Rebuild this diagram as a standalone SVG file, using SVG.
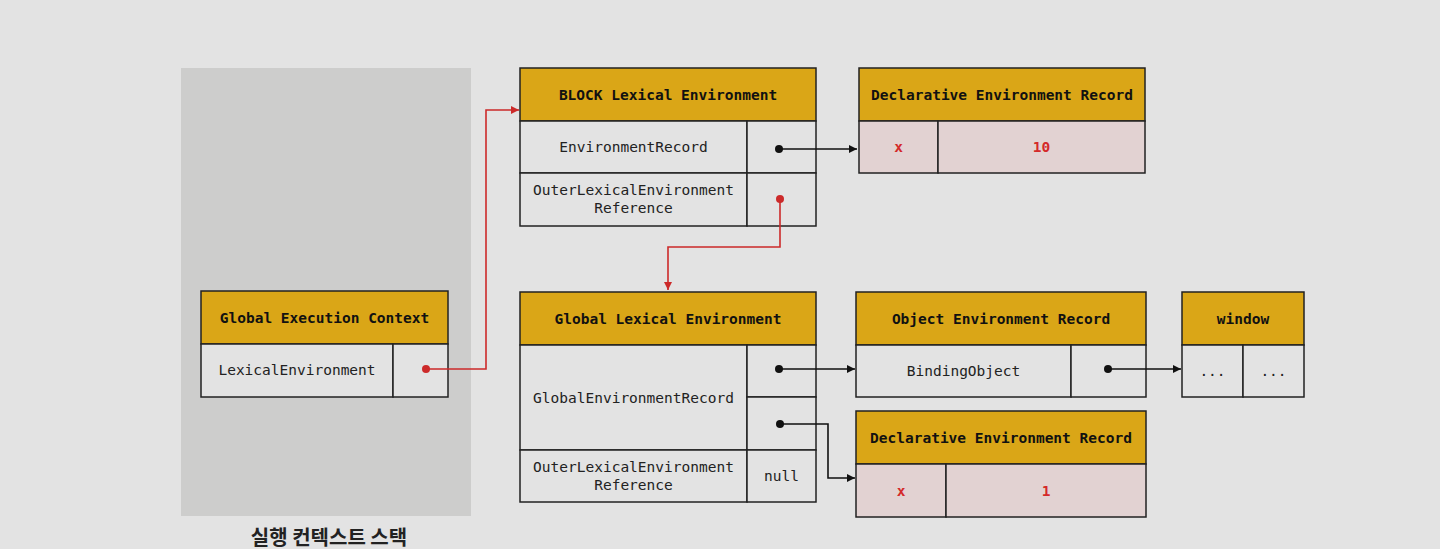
<svg xmlns="http://www.w3.org/2000/svg" width="1440" height="549" viewBox="0 0 1440 549">
<defs>
<style>
.hd{fill:#daa617;stroke:#222;stroke-width:1.5}
.cl{fill:#e3e3e3;stroke:#222;stroke-width:1.5}
.pk{fill:#e2d2d2;stroke:#222;stroke-width:1.5}
text{font-family:"DejaVu Sans Mono","Liberation Mono",monospace;font-size:14.5px;fill:#222;text-anchor:middle;dominant-baseline:central}
.b{font-weight:bold;fill:#111}
.r{font-weight:bold;fill:#d42a2a}
.k{font-family:"Noto Sans CJK KR","Noto Sans",sans-serif;font-size:20px;font-weight:bold}
.lk{fill:none;stroke:#111;stroke-width:1.6}
.lr{fill:none;stroke:#cc2a2a;stroke-width:1.6}
</style>
<marker id="ak" viewBox="0 0 10 10" refX="10" refY="5" markerWidth="9" markerHeight="8" orient="auto" markerUnits="userSpaceOnUse"><path d="M0,0L10,5L0,10z" fill="#111"/></marker>
<marker id="ar" viewBox="0 0 10 10" refX="10" refY="5" markerWidth="9" markerHeight="8" orient="auto" markerUnits="userSpaceOnUse"><path d="M0,0L10,5L0,10z" fill="#cc2a2a"/></marker>
</defs>
<rect x="0" y="0" width="1440" height="549" fill="#e3e3e3"/>
<g id="stack">
<rect x="181" y="68" width="290" height="448" fill="#cdcdcc"/>
<text class="k" x="329" y="536">실행 컨텍스트 스택</text>
</g>
<g id="gec">
<rect class="hd" x="201" y="291" width="247" height="53"/>
<text class="b" x="324.5" y="317.5">Global Execution Context</text>
<rect class="cl" x="201" y="344" width="192" height="53"/>
<rect class="cl" x="393" y="344" width="55" height="53"/>
<text x="297" y="370">LexicalEnvironment</text>
</g>
<g id="block">
<rect class="hd" x="520" y="68" width="296" height="53"/>
<text class="b" x="668" y="94.5">BLOCK Lexical Environment</text>
<rect class="cl" x="520" y="121" width="227" height="52"/>
<rect class="cl" x="747" y="121" width="69" height="52"/>
<text x="633.5" y="147">EnvironmentRecord</text>
<rect class="cl" x="520" y="173" width="227" height="53"/>
<rect class="cl" x="747" y="173" width="69" height="53"/>
<text x="633.5" y="190">OuterLexicalEnvironment</text>
<text x="633.5" y="208">Reference</text>
</g>
<g id="decl1">
<rect class="hd" x="859" y="68" width="286" height="53"/>
<text class="b" x="1002" y="94.5">Declarative Environment Record</text>
<rect class="pk" x="859" y="121" width="79" height="52"/>
<rect class="pk" x="938" y="121" width="207" height="52"/>
<text class="r" x="898.5" y="147">x</text>
<text class="r" x="1041.5" y="147">10</text>
</g>
<g id="gle">
<rect class="hd" x="520" y="292" width="296" height="53"/>
<text class="b" x="668" y="318.5">Global Lexical Environment</text>
<rect class="cl" x="520" y="345" width="227" height="105"/>
<rect class="cl" x="747" y="345" width="69" height="52"/>
<rect class="cl" x="747" y="397" width="69" height="53"/>
<text x="633.5" y="397.5">GlobalEnvironmentRecord</text>
<rect class="cl" x="520" y="450" width="227" height="52"/>
<rect class="cl" x="747" y="450" width="69" height="52"/>
<text x="633.5" y="467">OuterLexicalEnvironment</text>
<text x="633.5" y="485">Reference</text>
<text x="781.5" y="476">null</text>
</g>
<g id="oer">
<rect class="hd" x="856" y="292" width="290" height="53"/>
<text class="b" x="1001" y="318.5">Object Environment Record</text>
<rect class="cl" x="856" y="345" width="215" height="52"/>
<rect class="cl" x="1071" y="345" width="75" height="52"/>
<text x="963.5" y="371">BindingObject</text>
</g>
<g id="window">
<rect class="hd" x="1182" y="292" width="122" height="53"/>
<text class="b" x="1243" y="318.5">window</text>
<rect class="cl" x="1182" y="345" width="61" height="52"/>
<rect class="cl" x="1243" y="345" width="61" height="52"/>
<text x="1212.5" y="371">...</text>
<text x="1273.5" y="371">...</text>
</g>
<g id="decl2">
<rect class="hd" x="856" y="411" width="290" height="53"/>
<text class="b" x="1001" y="437.5">Declarative Environment Record</text>
<rect class="pk" x="856" y="464" width="90" height="53"/>
<rect class="pk" x="946" y="464" width="200" height="53"/>
<text class="r" x="901" y="490.5">x</text>
<text class="r" x="1046" y="490.5">1</text>
</g>
<g id="connectors">
<path class="lr" d="M426,369H486V110H519" marker-end="url(#ar)"/>
<circle cx="426" cy="369" r="4" fill="#cc2a2a"/>
<path class="lr" d="M780,199V247H668V290" marker-end="url(#ar)"/>
<circle cx="780" cy="199" r="4" fill="#cc2a2a"/>
<path class="lk" d="M779,149H857" marker-end="url(#ak)"/>
<circle cx="779" cy="149" r="4" fill="#111"/>
<path class="lk" d="M779,369H855" marker-end="url(#ak)"/>
<circle cx="779" cy="369" r="4" fill="#111"/>
<path class="lk" d="M780,424H828V478H855" marker-end="url(#ak)"/>
<circle cx="780" cy="424" r="4" fill="#111"/>
<path class="lk" d="M1108,369H1181" marker-end="url(#ak)"/>
<circle cx="1108" cy="369" r="4" fill="#111"/>
</g>
</svg>
